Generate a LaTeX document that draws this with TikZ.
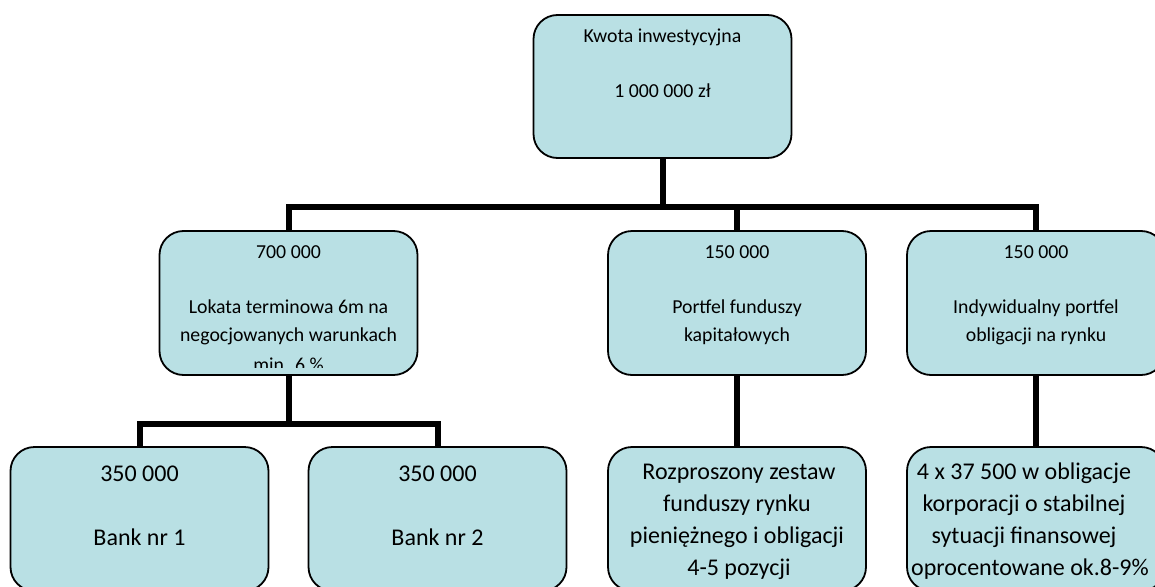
\documentclass[tikz,border=0pt]{standalone}
\usepackage{fontspec}
\setmainfont{Carlito}
\definecolor{boxfill}{RGB}{185,224,228}
\begin{document}
\begin{tikzpicture}[x=1pt,y=-1pt,
  box/.style={draw=black, line width=1.8pt, fill=boxfill, rounded corners=24pt,
    minimum width=258pt, minimum height=144pt, inner sep=0pt},
  link/.style={draw=black, line width=6pt},
  smalltxt/.style={font=\fontsize{19.8}{27.5}\selectfont, anchor=base, inner sep=0pt},
  bigtxt/.style={font=\fontsize{24}{32}\selectfont, anchor=base, inner sep=0pt}]
\useasboundingbox (0,0) rectangle (1155,586);
\clip (0,0) rectangle (1155,586);
% boxes
\node[box, minimum height=143pt] (top) at (662.5,86.5) {};
\node[box] (m1) at (288.5,303) {};
\node[box] (m2) at (737,303) {};
\node[box] (m3) at (1036,303) {};
\node[box] (b1) at (139.5,519) {};
\node[box] (b2) at (437.5,519) {};
\node[box] (b3) at (737,519) {};
\node[box] (b4) at (1036,519) {};
% connectors
\coordinate (bar) at (0,207);
\coordinate (bar2) at (0,424);
\draw[link] (top.south) -- (top.south |- bar);
\draw[link] (m1.north) |- (m3.north |- bar) -- (m3.north);
\draw[link] (m2.north) -- (m2.north |- bar);
\draw[link] (m1.south) -- (m1.south |- bar2);
\draw[link] (b1.north) |- (b2.north |- bar2) -- (b2.north);
\draw[link] (m2.south) -- (b3.north);
\draw[link] (m3.south) -- (b4.north);
% texts
\node[smalltxt] (tk1) at (662.5,43) {Kwota inwestycyjna};
\node[smalltxt] (tk2) at (662.5,97) {1 000 000 zł};
\begin{scope}
\clip (m1.north west) rectangle ([yshift=8.5pt]m1.south east);
\node[smalltxt] (ta1) at (288.5,258) {700 000};
\node[smalltxt] (ta2) at (288.5,313) {Lokata terminowa 6m na};
\node[smalltxt] (ta3) at (288.5,341) {negocjowanych warunkach};
\node[smalltxt] (ta4) at (288.5,371) {min. 6 \%};
\end{scope}
\node[smalltxt] (tb1) at (737,258) {150 000};
\node[smalltxt] (tb2) at (737,313) {Portfel funduszy};
\node[smalltxt] (tb3) at (737,341) {kapitałowych};
\node[smalltxt] (tc1) at (1036,258) {150 000};
\node[smalltxt] (tc2) at (1036,313) {Indywidualny portfel};
\node[smalltxt] (tc3) at (1036,341) {obligacji na rynku};
\node[bigtxt] (td1) at (139.5,481) {350 000};
\node[bigtxt] (td2) at (139.5,545) {Bank nr 1};
\node[bigtxt] (te1) at (437.5,481) {350 000};
\node[bigtxt] (te2) at (437.5,545) {Bank nr 2};
\node[bigtxt] (tf1) at (739,479) {Rozproszony zestaw};
\node[bigtxt] (tf2) at (737,511) {funduszy rynku};
\node[bigtxt] (tf3) at (737,543) {pieniężnego i obligacji};
\node[bigtxt] (tf4) at (739,575) {4-5 pozycji};
\node[bigtxt] (tg1) at (1024,479) {4 x 37 500 w obligacje};
\node[bigtxt] (tg2) at (1024,511) {korporacji o stabilnej};
\node[bigtxt] (tg3) at (1024,543) {sytuacji finansowej};
\node[bigtxt] (tg4) at (1030,575) {oprocentowane ok.8-9\%};
\end{tikzpicture}
\end{document}
